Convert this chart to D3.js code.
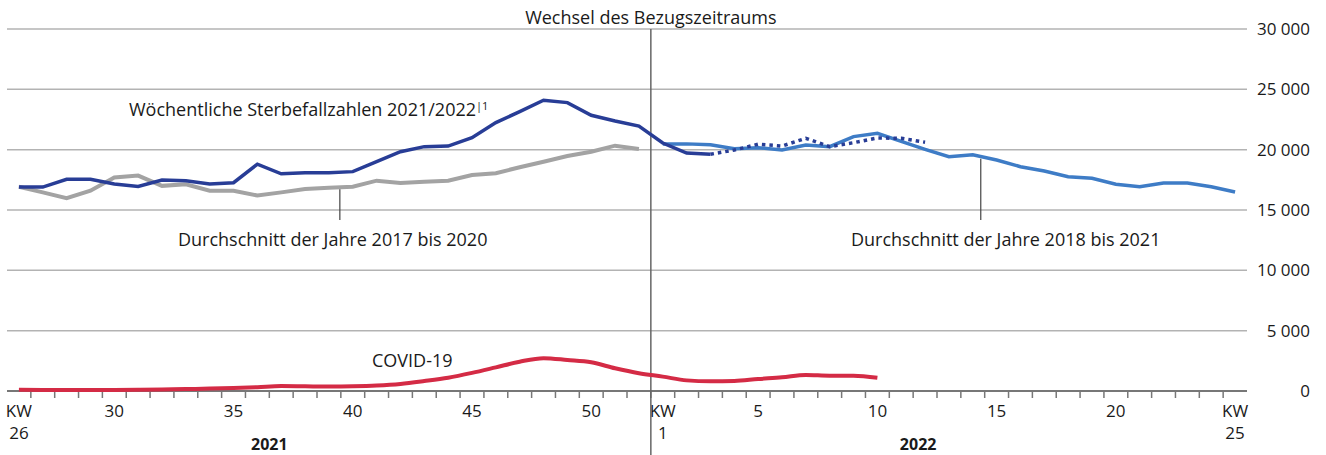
<!DOCTYPE html>
<html>
<head>
<meta charset="utf-8">
<script src="https://cdn.jsdelivr.net/npm/d3@7"></script>
<style>
  body { margin: 0; background: #fff; }
  svg text { font-family: "Open Sans", "Noto Sans", sans-serif; fill: #1a1a1a; }
</style>
</head>
<body>
<div id="chart"></div>
<script>
// weeks shown on the x axis
var weeks2021 = [26, 27, 28, 29, 30, 31, 32, 33, 34, 35, 36, 37, 38, 39, 40, 41, 42, 43, 44, 45, 46, 47, 48, 49, 50, 51, 52];
var weeks2022 = [1, 2, 3, 4, 5, 6, 7, 8, 9, 10, 11, 12, 13, 14, 15, 16, 17, 18, 19, 20, 21, 22, 23, 24, 25];

// weekly deaths 2021/2022 (2022 from KW 4 on is provisional, dotted)
var deaths2021 = [16900, 16900, 17550, 17540, 17150, 16950, 17480, 17430, 17150, 17260, 18800, 18000, 18090, 18090, 18180, 19000, 19830, 20250, 20300, 20990, 22240, 23150, 24100, 23900, 22850, 22380, 21960];
var deaths2022 = [20550, 19720, 19620, 19970, 20450, 20300, 20940, 20250, 20580, 20970, 20940, 20620];
var solidWeeks2022 = 3;

// averages
var avg2017to2020 = [16930, 16460, 15980, 16600, 17700, 17850, 17000, 17130, 16600, 16600, 16200, 16460, 16740, 16850, 16930, 17430, 17230, 17350, 17430, 17900, 18050, 18540, 19000, 19470, 19830, 20330, 20060];
var avg2018to2021 = [20480, 20480, 20400, 20080, 20160, 19970, 20390, 20250, 21080, 21360, 20680, 20030, 19420, 19580, 19140, 18590, 18230, 17760, 17630, 17130, 16930, 17240, 17240, 16930, 16490];

// COVID-19 deaths
var covid2021 = [100, 90, 80, 80, 90, 100, 130, 160, 200, 250, 320, 410, 390, 370, 390, 450, 580, 820, 1100, 1500, 1960, 2430, 2720, 2570, 2380, 1880, 1470];
var covid2022 = [1190, 880, 800, 830, 990, 1130, 1330, 1270, 1270, 1100];

var yTicks = [0, 5000, 10000, 15000, 20000, 25000, 30000];

(function() {
  var width = 1326, height = 455;
  var left = 7, right = 1247, plotTop = 29, plotBottom = 391;

  var keys = weeks2021.map(function(w) { return '2021-' + w; })
    .concat(weeks2022.map(function(w) { return '2022-' + w; }));

  var x = d3.scaleBand().domain(keys).range([left, right]);
  var y = d3.scaleLinear().domain([0, 30000]).range([plotBottom, plotTop]);
  var bw = x.bandwidth();
  var cx = function(k) { return x(k) + bw / 2; };

  var svg = d3.select('#chart').append('svg')
    .attr('width', width)
    .attr('height', height);

  var fmt = function(v) { return d3.format(',')(v).replace(/,/g, ' '); };

  // gridlines + y labels
  svg.append('g').selectAll('line').data(yTicks.filter(function(t) { return t > 0; }))
    .enter().append('line')
    .attr('x1', left).attr('x2', right)
    .attr('y1', function(d) { return y(d); }).attr('y2', function(d) { return y(d); })
    .style('stroke', '#b3b3b3').style('stroke-width', 1.5);

  svg.append('g').selectAll('text').data(yTicks)
    .enter().append('text')
    .attr('x', 1310).attr('y', function(d) { return y(d); })
    .attr('dy', '0.35em')
    .attr('text-anchor', 'end')
    .style('font-size', '17px')
    .text(function(d) { return fmt(d); });

  // x axis line and ticks
  svg.append('line')
    .attr('x1', left).attr('x2', right).attr('y1', plotBottom).attr('y2', plotBottom)
    .style('stroke', '#777').style('stroke-width', 2);

  svg.append('g').selectAll('line').data(keys.slice(1))
    .enter().append('line')
    .attr('x1', function(d) { return x(d); }).attr('x2', function(d) { return x(d); })
    .attr('y1', plotBottom).attr('y2', plotBottom + 7)
    .style('stroke', '#777').style('stroke-width', 1.5);

  // x labels
  var xl = svg.append('g').style('font-size', '17px').attr('text-anchor', 'middle');
  function weekLabel(key, w, first, last) {
    if (first || last) {
      xl.append('text').attr('x', cx(key)).attr('y', 417).text('KW');
      xl.append('text').attr('x', cx(key)).attr('y', 439).text(w);
    } else if (w % 5 === 0) {
      xl.append('text').attr('x', cx(key)).attr('y', 417).text(w);
    }
  }
  weeks2021.forEach(function(w, i) { weekLabel('2021-' + w, w, i === 0, false); });
  weeks2022.forEach(function(w, i) { weekLabel('2022-' + w, w, i === 0, i === weeks2022.length - 1); });

  xl.append('text').attr('x', x('2021-37')).attr('y', 450)
    .style('font-weight', 'bold').style('font-size', '16px').text('2021');
  xl.append('text').attr('x', x('2022-12') + 5).attr('y', 450)
    .style('font-weight', 'bold').style('font-size', '16px').text('2022');

  // period change line
  var sep = x('2022-1');
  svg.append('line')
    .attr('x1', sep).attr('x2', sep).attr('y1', plotTop).attr('y2', height)
    .style('stroke', '#666').style('stroke-width', 1.5);
  svg.append('text')
    .attr('x', sep).attr('y', 24)
    .attr('text-anchor', 'middle')
    .style('font-size', '18px')
    .text('Wechsel des Bezugszeitraums');

  // lines
  var line = d3.line()
    .x(function(d) { return cx(d.k); })
    .y(function(d) { return y(d.v); });
  var smooth = d3.line()
    .x(function(d) { return cx(d.k); })
    .y(function(d) { return y(d.v); })
    .curve(d3.curveMonotoneX);

  function pts(year, weeks, vals) {
    return vals.map(function(v, i) { return { k: year + '-' + weeks[i], v: v }; });
  }

  var deathsPts = pts(2021, weeks2021, deaths2021).concat(pts(2022, weeks2022, deaths2022));
  var solidPts = deathsPts.slice(0, weeks2021.length + solidWeeks2022);
  var dottedPts = deathsPts.slice(weeks2021.length + solidWeeks2022 - 1);

  svg.append('path').datum(pts(2021, weeks2021, avg2017to2020))
    .attr('d', line).style('fill', 'none')
    .style('stroke', '#a3a3a3').style('stroke-width', 4);

  svg.append('path').datum(pts(2022, weeks2022, avg2018to2021))
    .attr('d', line).style('fill', 'none')
    .style('stroke', '#3e7cc6').style('stroke-width', 3.5);

  svg.append('path').datum(solidPts)
    .attr('d', line).style('fill', 'none')
    .style('stroke', '#283d96').style('stroke-width', 3.5);

  svg.append('path').datum(dottedPts)
    .attr('d', line).style('fill', 'none')
    .style('stroke', '#283d96').style('stroke-width', 3.5)
    .style('stroke-dasharray', '3.5,4');

  svg.append('path').datum(pts(2021, weeks2021, covid2021).concat(pts(2022, weeks2022, covid2022)))
    .attr('d', smooth).style('fill', 'none')
    .style('stroke', '#d42b45').style('stroke-width', 4);

  // annotations
  var lab = svg.append('g').style('font-size', '18px');
  var t1 = lab.append('text').attr('x', 129).attr('y', 116);
  t1.append('tspan').text('Wöchentliche Sterbefallzahlen 2021/2022');
  t1.append('tspan').attr('dy', -6).style('font-size', '11px').text('|1');

  lab.append('text').attr('x', 178).attr('y', 246).text('Durchschnitt der Jahre 2017 bis 2020');
  lab.append('text').attr('x', 851).attr('y', 246).text('Durchschnitt der Jahre 2018 bis 2021');
  lab.append('text').attr('x', 372).attr('y', 367).text('COVID-19');

  var lx1 = (cx('2021-39') + cx('2021-40')) / 2 - 1;
  svg.append('line')
    .attr('x1', lx1).attr('x2', lx1)
    .attr('y1', y((avg2017to2020[13] + avg2017to2020[14]) / 2) + 2).attr('y2', 220)
    .style('stroke', '#444').style('stroke-width', 1.2);
  var lx2 = cx('2022-14') + 8;
  svg.append('line')
    .attr('x1', lx2).attr('x2', lx2)
    .attr('y1', y(avg2018to2021[13]) + 4).attr('y2', 220)
    .style('stroke', '#444').style('stroke-width', 1.2);
})();
</script>
</body>
</html>
